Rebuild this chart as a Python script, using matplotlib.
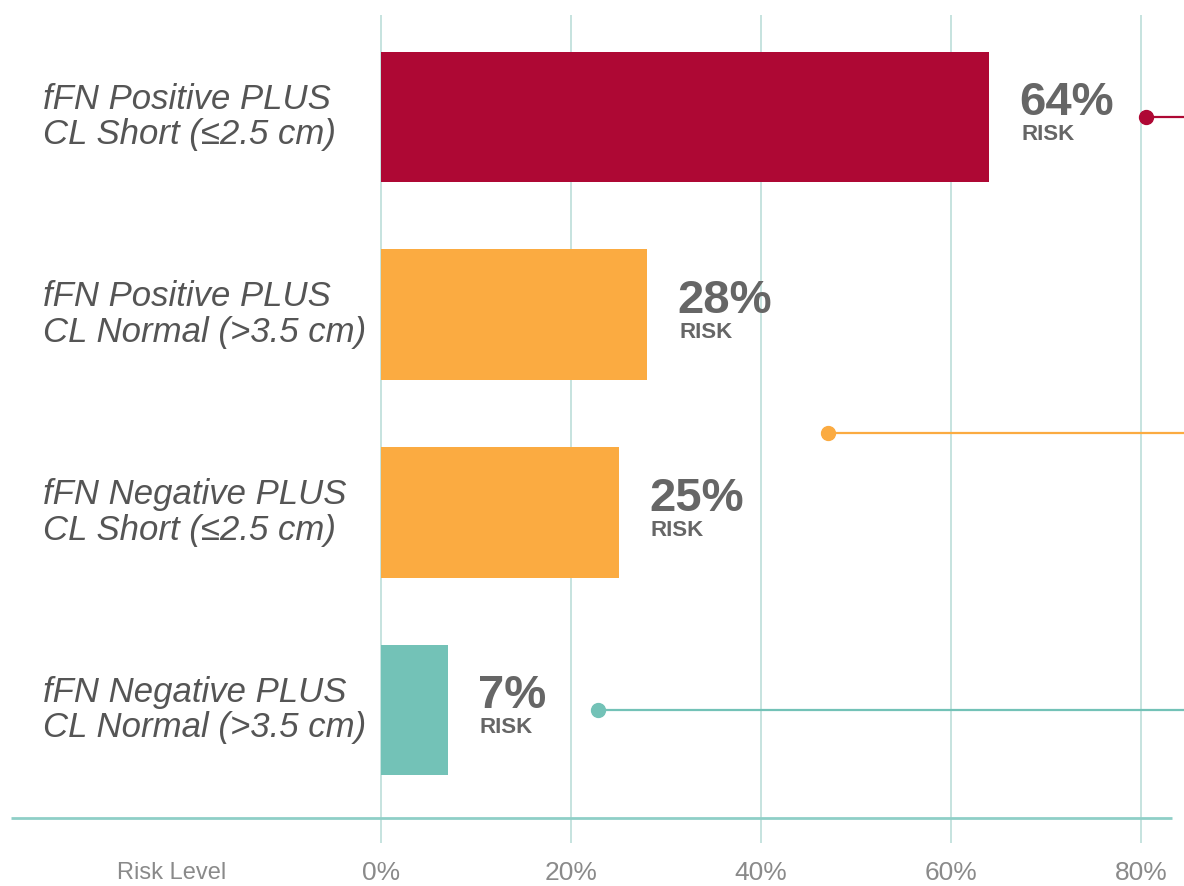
import matplotlib.pyplot as plt

# risk of preterm birth by fFN result and cervical length
categories = [
    "fFN Positive PLUS\nCL Short (\u22642.5 cm)",
    "fFN Positive PLUS\nCL Normal (>3.5 cm)",
    "fFN Negative PLUS\nCL Short (\u22642.5 cm)",
    "fFN Negative PLUS\nCL Normal (>3.5 cm)",
]
risk = [64, 28, 25, 7]
bar_colors = ["#AE0834", "#FBAB41", "#FBAB41", "#73C2B7"]
ticks = [0, 20, 40, 60, 80]
tick_labels = ["0%", "20%", "40%", "60%", "80%"]

# callout leaders running off to the right
callout_x = [80.5, 47, 22.8]
callout_y = [0, 1.6, 3]
callout_colors = ["#AE0834", "#FBAB41", "#73C2B7"]

grid_col = "#C2E0DC"
base_col = "#8FCFC7"
text_col = "#555555"

plt.rcParams["font.family"] = ["Liberation Sans", "DejaVu Sans"]

fig = plt.figure(figsize=(11.84, 8.86), dpi=100)
ax = fig.add_axes([0, 0, 1, 1])
ax.set_xlim(-381 / 9.5, (1184 - 381) / 9.5)
ax.set_ylim(3.89, -0.592)
ax.axis("off")

rows = list(range(len(risk)))

# grid and baseline
ax.vlines(ticks, -0.516, 3.672, color=grid_col, lw=1.3, zorder=0)
ax.plot([-39, 83.3], [3.546, 3.546], color=base_col, lw=2, zorder=1,
        solid_capstyle="butt")

ax.barh(rows, risk, height=0.66, color=bar_colors, zorder=2)

for y, lab in zip(rows, categories):
    ax.text(-35.6, y, lab, ha="left", va="center", fontsize=25,
            style="italic", color=text_col, linespacing=1.1)

for y, v in zip(rows, risk):
    ax.text(v + 3.2, y - 0.07, f"{v}%", ha="left", va="center",
            fontsize=34, fontweight="bold", color="#666666")
    ax.text(v + 3.4, y + 0.09, "RISK", ha="left", va="center",
            fontsize=16, fontweight="bold", color="#666666")

for x, y, c in zip(callout_x, callout_y, callout_colors):
    ax.plot([x, 90], [y, y], color=c, lw=1.6, zorder=3)
    ax.plot(x, y, "o", color=c, ms=10, zorder=4)

for t, lab in zip(ticks, tick_labels):
    ax.text(t, 3.824, lab, ha="center", va="center", fontsize=19,
            color="#8A8A8A")
ax.text(-22, 3.824, "Risk Level", ha="center", va="center", fontsize=17,
        color="#8A8A8A")

fig.savefig("out.png", dpi=100)
